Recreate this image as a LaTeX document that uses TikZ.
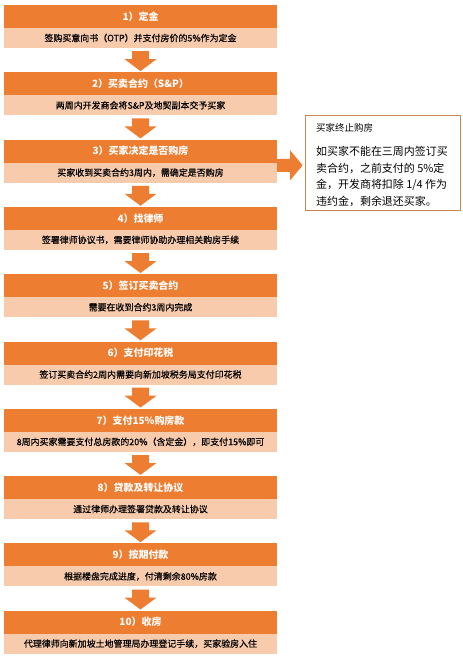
\documentclass[tikz,border=0pt]{standalone}
\usepackage{fontspec}
\setmainfont{Noto Sans CJK SC}
\newfontfamily\bodyfont[FakeBold=0.4]{Noto Sans CJK SC}
\usetikzlibrary{calc}
\definecolor{hdr}{HTML}{ED7D31}
\definecolor{bdy}{HTML}{F8CBAD}
\definecolor{notec}{HTML}{C9874F}
\begin{document}
\begin{tikzpicture}[x=1bp,y=-1bp,
 hdrbox/.style={fill=hdr, minimum width=273bp, minimum height=23bp, inner sep=0pt, text=white, font=\fontsize{10}{12}\selectfont\bfseries},
 bdybox/.style={fill=bdy, minimum width=273bp, minimum height=20bp, inner sep=0pt, font=\bodyfont\fontsize{9}{11}\selectfont},
 blockarrow/.style={fill=hdr},
 notebox/.style={draw=notec, line width=0.8bp, fill=white, minimum width=155bp, minimum height=95bp, inner sep=0pt},
 notetext/.style={inner sep=0pt, align=left},
]
\useasboundingbox (0,0) rectangle (463,658);
\foreach \i/\h/\b in {
 1/{1）定金}/{签购买意向书（OTP）并支付房价的5\%作为定金},
 2/{2）买卖合约（S\&P）}/{两周内开发商会将S\&P及地契副本交予买家},
 3/{3）买家决定是否购房}/{买家收到买卖合约3周内，需确定是否购房},
 4/{4）找律师}/{签署律师协议书，需要律师协助办理相关购房手续},
 5/{5）签订买卖合约}/{需要在收到合约3周内完成},
 6/{6）支付印花税}/{签订买卖合约2周内需要向新加坡税务局支付印花税},
 7/{7）支付15\%购房款}/{8周内买家需要支付总房款的20\%（含定金），即支付15\%即可},
 8/{8）贷款及转让协议}/{通过律师办理签署贷款及转让协议},
 9/{9）按期付款}/{根据楼盘完成进度，付清剩余80\%房款},
 10/{10）收房}/{代理律师向新加坡土地管理局办理登记手续，买家验房入住}} {
  \pgfmathsetmacro\ytop{5+67.3*(\i-1)}
  \node[hdrbox] (h\i) at (140.5,\ytop+11.5) {\h};
  \node[bdybox] (b\i) at (140.5,\ytop+33) {\b};
}
\foreach \i in {1,...,9} {
  \pgfmathtruncatemacro\j{\i+1}
  \fill[blockarrow] ($(b\i.south)+(-8.5,3)$) -- ($(b\i.south)+(8.5,3)$) -- ($(b\i.south)+(8.5,11)$) -- ($(b\i.south)+(16,11)$) -- ($(h\j.north)+(0,-1)$) -- ($(b\i.south)+(-16,11)$) -- ($(b\i.south)+(-8.5,11)$) -- cycle;
}
% side note
\node[notebox] (r) at (382.5,162.5) {};
\node[notetext, anchor=west, font=\fontsize{9.5}{11}\selectfont] (rt) at (316,128) {买家终止购房};
\node[notetext, anchor=north west, font=\fontsize{11}{16.5}\selectfont] (rp) at (316,146.5) {如买家不能在三周内签订买\\卖合约，之前支付的 5\%定\\金，开发商将扣除 1/4 作为\\违约金，剩余退还买家。};
\coordinate (c) at ($(h3.south east)+(0,2.5)$);
\coordinate (tip) at ($(r.west |- c)+(-2,0)$);
\fill[blockarrow] ($(c)+(0,-6.5)$) -- ($(c)+(13,-6.5)$) -- ($(c)+(13,-15)$) -- (tip) -- ($(c)+(13,15)$) -- ($(c)+(13,6.5)$) -- ($(c)+(0,6.5)$) -- cycle;
\end{tikzpicture}
\end{document}
